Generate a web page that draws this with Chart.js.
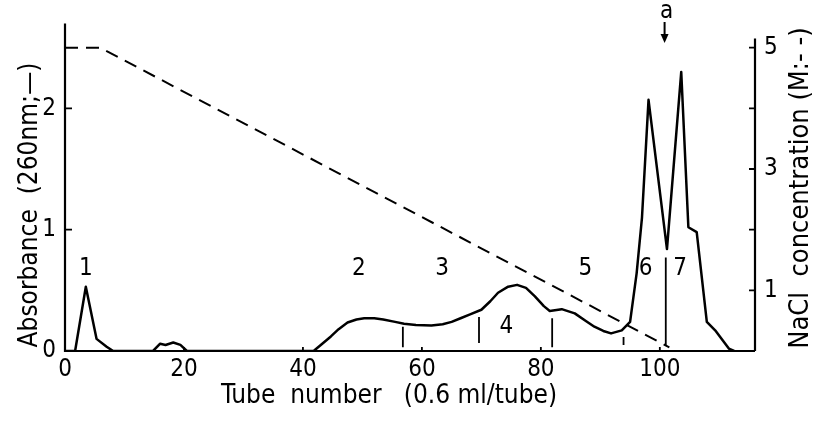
<!DOCTYPE html>
<html>
<head>
<meta charset="utf-8">
<script src="https://cdn.jsdelivr.net/npm/chart.js@4"></script>
<style>
  html, body { margin: 0; padding: 0; background: #fff; }
  #wrap { width: 819px; height: 422px; position: relative; }
</style>
</head>
<body>
<div id="wrap"><canvas id="elution"></canvas></div>
<script>
// Absorbance profile (260 nm) along the fractions
const tubes = [0, 1.7, 3.5, 5.3, 7, 8.1, 14.8, 16, 16.9, 18.2, 19.4, 20.5,
  41.8, 43, 44.7, 46, 47.5, 49, 50.3, 52, 53.5, 55.5, 57, 59, 61.6, 63.5, 65, 66.5, 68, 70,
  71.5, 72.8, 74.5, 76, 77.5, 79, 80.5, 81.5, 83.5, 85.7, 87.5, 89, 90.5, 91.8, 93.6, 95,
  96.1, 97, 98.1, 101.2, 103.6, 104.8, 106.2, 107.9, 109.3, 111.6, 112.5];
const absorbance = [0, 0, 0.53, 0.1, 0.035, 0, 0, 0.06, 0.05, 0.07, 0.05, 0,
  0, 0.05, 0.12, 0.18, 0.235, 0.26, 0.27, 0.27, 0.26, 0.24, 0.225, 0.215, 0.21, 0.22, 0.24, 0.27, 0.3, 0.34,
  0.41, 0.48, 0.53, 0.545, 0.52, 0.45, 0.37, 0.33, 0.345, 0.31, 0.25, 0.2, 0.165, 0.145, 0.17, 0.24,
  0.64, 1.1, 2.07, 0.84, 2.3, 1.02, 0.98, 0.24, 0.17, 0.02, 0];

// NaCl gradient (M)
const saltTubes = [0, 5.9, 101.6];
const saltConc = [5, 5, 0.06];

// fraction cut lines
const cutTubes = [56.8, 69.6, 81.9, 93.9, 101];
const cutLow = [0.03, 0.066, 0.03, 0.05, 0.05];
const cutHigh = [0.2, 0.28, 0.27, 0.115, 0.77];

// fraction numbers
const fractionNames = ["1", "2", "3", "4", "5", "6", "7"];
const fractionTubes = [3.5, 49.4, 63.4, 74.2, 87.5, 97.6, 103.4];
const fractionAbs = [0.68, 0.675, 0.675, 0.2, 0.675, 0.675, 0.675];

const tubeTicks = [0, 20, 40, 60, 80, 100];
const absTicks = [0, 1, 2];
const saltTicks = [1, 2, 3, 4, 5];
const arrowTube = 100.8;

const FONT = '"DejaVu Sans Condensed", "DejaVu Sans", sans-serif';

const pts = (xs, ys) => xs.map((x, i) => ({ x: x, y: ys[i] }));

const datasets = [
  {
    data: pts(tubes, absorbance), yAxisID: "y",
    borderColor: "#000", borderWidth: 2.5, pointRadius: 0, tension: 0, borderJoinStyle: "round"
  },
  {
    data: pts(saltTubes, saltConc), yAxisID: "y1",
    borderColor: "#000", borderWidth: 2, borderDash: [13, 8], pointRadius: 0, tension: 0
  }
];
cutTubes.forEach((t, i) => {
  datasets.push({
    data: [{ x: t, y: cutLow[i] }, { x: t, y: cutHigh[i] }], yAxisID: "y",
    borderColor: "#000", borderWidth: 1.8, pointRadius: 0
  });
});

// axis lines, inward ticks, titles and fraction labels
const decor = {
  id: "decor",
  afterDraw(chart) {
    const { ctx, scales } = chart;
    const xs = scales.x, ys = scales.y, rs = scales.y1;
    const x0 = xs.getPixelForValue(0), x1 = xs.getPixelForValue(xs.max);
    const yb = ys.getPixelForValue(0);
    ctx.save();
    ctx.strokeStyle = "#000";
    ctx.lineWidth = 2.2;
    ctx.beginPath();
    ctx.moveTo(x0, ys.getPixelForValue(ys.max));
    ctx.lineTo(x0, yb);
    ctx.lineTo(x1, yb);
    ctx.moveTo(x1, yb);
    ctx.lineTo(x1, rs.getPixelForValue(5.15));
    ctx.stroke();

    ctx.lineWidth = 1.8;
    ctx.beginPath();
    absTicks.slice(1).forEach(v => {
      const y = ys.getPixelForValue(v);
      ctx.moveTo(x0, y); ctx.lineTo(x0 + 7, y);
    });
    saltTicks.forEach(v => {
      const y = rs.getPixelForValue(v);
      ctx.moveTo(x1, y); ctx.lineTo(x1 - 6, y);
    });
    tubeTicks.slice(1).forEach(v => {
      const x = xs.getPixelForValue(v);
      ctx.moveTo(x, yb); ctx.lineTo(x, yb - 4);
    });
    ctx.stroke();

    ctx.fillStyle = "#000";
    ctx.textAlign = "center";
    ctx.textBaseline = "middle";
    ctx.font = "24px " + FONT;
    fractionNames.forEach((n, i) => {
      ctx.fillText(n, xs.getPixelForValue(fractionTubes[i]), ys.getPixelForValue(fractionAbs[i]));
    });

    // marker a
    const ax = xs.getPixelForValue(arrowTube);
    ctx.fillText("a", ax + 2, 12);
    ctx.lineWidth = 2;
    ctx.beginPath();
    ctx.moveTo(ax, 22); ctx.lineTo(ax, 36);
    ctx.stroke();
    ctx.beginPath();
    ctx.moveTo(ax - 4, 34); ctx.lineTo(ax + 4, 34); ctx.lineTo(ax, 43);
    ctx.closePath();
    ctx.fill();

    ctx.font = "26px " + FONT;
    ctx.fillText("Tube  number   (0.6 ml/tube)", 389, 396);

    ctx.save();
    ctx.translate(30, 205);
    ctx.rotate(-Math.PI / 2);
    ctx.fillText("Absorbance  (260nm;\u2014)", 0, 0);
    ctx.restore();

    ctx.save();
    ctx.translate(801, 188);
    ctx.rotate(-Math.PI / 2);
    ctx.font = "27px " + FONT;
    ctx.fillText("NaCl  concentration (M:- -)", 0, 0);
    ctx.restore();
    ctx.restore();
  }
};

const tickFont = { family: FONT, size: 24 };

new Chart(document.getElementById("elution"), {
  type: "line",
  data: { datasets: datasets },
  options: {
    responsive: true,
    maintainAspectRatio: false,
    animation: false,
    layout: { padding: { top: 23, left: 0, right: 0, bottom: 0 } },
    plugins: { legend: { display: false }, tooltip: { enabled: false } },
    scales: {
      x: {
        type: "linear", min: 0, max: 116,
        grid: { display: false, drawTicks: false },
        border: { display: false },
        ticks: { stepSize: 20, includeBounds: false, color: "#000", font: tickFont, padding: 4, maxRotation: 0 },
        afterFit: s => { s.height = 71; }
      },
      y: {
        position: "left", min: 0, max: 2.7,
        grid: { display: false, drawTicks: false },
        border: { display: false },
        ticks: { stepSize: 1, includeBounds: false, color: "#000", font: tickFont, padding: 9 },
        afterFit: s => { s.width = 65; }
      },
      y1: {
        position: "right", min: 0, max: 5.4,
        grid: { display: false, drawTicks: false },
        border: { display: false },
        ticks: {
          stepSize: 1, includeBounds: false, color: "#000", font: tickFont, padding: 9,
          callback: v => (v % 2 === 1 ? String(v) : "")
        },
        afterFit: s => { s.width = 64; }
      }
    }
  },
  plugins: [decor]
});
</script>
</body>
</html>
